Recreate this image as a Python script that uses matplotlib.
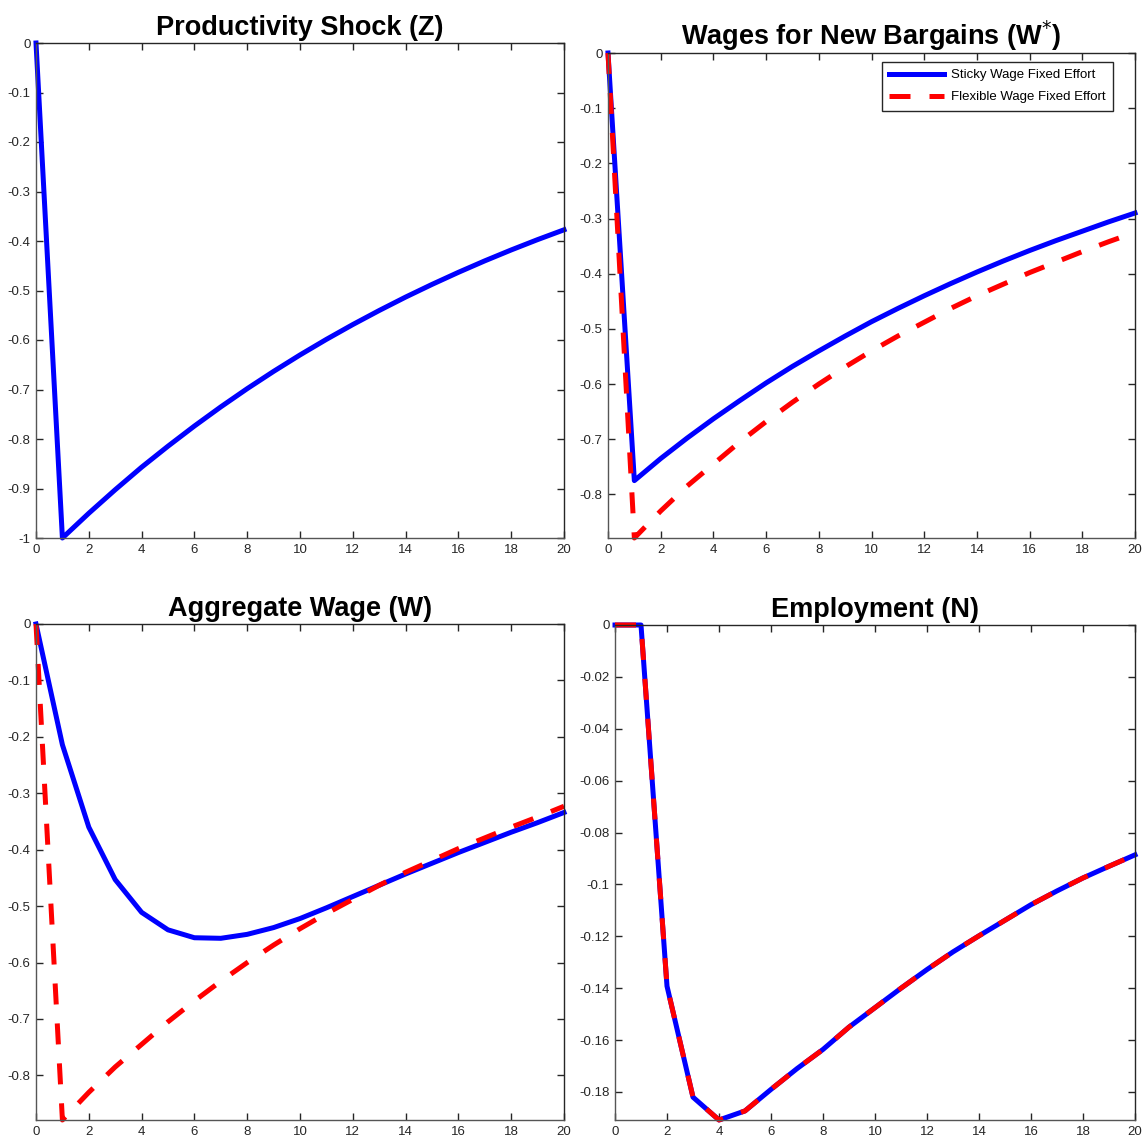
import matplotlib
matplotlib.use("Agg")
import matplotlib.pyplot as plt

plt.rcParams['font.family'] = ['Liberation Sans', 'DejaVu Sans']

t = list(range(21))

z_shock = [0, -1.0, -0.95, -0.9025, -0.857, -0.8145, -0.7738, -0.7351, -0.6983, -0.6634,
           -0.6302, -0.5987, -0.5688, -0.5404, -0.5133, -0.4877, -0.4633, -0.4401,
           -0.4181, -0.3972, -0.3774]

wstar_sticky = [0, -0.775, -0.735, -0.698, -0.663, -0.630, -0.598, -0.568, -0.540, -0.513,
                -0.487, -0.463, -0.440, -0.418, -0.397, -0.377, -0.358, -0.340, -0.323,
                -0.306, -0.290]
wstar_flex = [0, -0.879, -0.830, -0.785, -0.745, -0.705, -0.668, -0.633, -0.600, -0.569,
              -0.540, -0.513, -0.488, -0.463, -0.440, -0.419, -0.398, -0.379, -0.360,
              -0.342, -0.325]

w_sticky = [0, -0.214, -0.360, -0.453, -0.511, -0.542, -0.556, -0.557, -0.550, -0.538,
            -0.522, -0.503, -0.483, -0.463, -0.443, -0.424, -0.405, -0.387, -0.369,
            -0.352, -0.334]
w_flex = [0, -0.879, -0.830, -0.785, -0.745, -0.705, -0.668, -0.633, -0.600, -0.569,
          -0.540, -0.513, -0.488, -0.463, -0.440, -0.419, -0.398, -0.379, -0.360,
          -0.342, -0.323]

n_sticky = [0, 0, -0.1392, -0.182, -0.1908, -0.1873, -0.179, -0.171, -0.1636, -0.155,
            -0.1475, -0.140, -0.1328, -0.126, -0.1198, -0.1138, -0.1078, -0.1025,
            -0.0975, -0.093, -0.0886]
n_flex = [0, 0, -0.1392, -0.182, -0.1908, -0.1873, -0.179, -0.171, -0.1636, -0.155,
          -0.1475, -0.140, -0.1328, -0.126, -0.1198, -0.1138, -0.1078, -0.1025,
          -0.0975, -0.093, -0.0886]

xticks = list(range(0, 21, 2))
yt_tl = [0, -0.1, -0.2, -0.3, -0.4, -0.5, -0.6, -0.7, -0.8, -0.9, -1.0]
yl_tl = ['0', '-0.1', '-0.2', '-0.3', '-0.4', '-0.5', '-0.6', '-0.7', '-0.8', '-0.9', '-1']
yt_w = [0, -0.1, -0.2, -0.3, -0.4, -0.5, -0.6, -0.7, -0.8]
yl_w = ['0', '-0.1', '-0.2', '-0.3', '-0.4', '-0.5', '-0.6', '-0.7', '-0.8']
yt_n = [0, -0.02, -0.04, -0.06, -0.08, -0.1, -0.12, -0.14, -0.16, -0.18]
yl_n = ['0', '-0.02', '-0.04', '-0.06', '-0.08', '-0.1', '-0.12', '-0.14', '-0.16', '-0.18']

titles = ['Productivity Shock (Z)', 'Wages for New Bargains (W$^{*}$)',
          'Aggregate Wage (W)', 'Employment (N)']
labels = ['Sticky Wage Fixed Effort', 'Flexible Wage Fixed Effort']

W, H = 1148, 1145
fig = plt.figure(figsize=(W / 100, H / 100), dpi=100)

def add_ax(l, r, top, bot):
    return fig.add_axes([l / W, 1 - bot / H, (r - l) / W, (bot - top) / H])

axes = [add_ax(36, 564, 43, 538), add_ax(608, 1135, 53, 538),
        add_ax(36, 564, 624, 1120), add_ax(615, 1135, 625, 1120)]

BLUE = '#0000ff'
RED = '#ff0000'
LW = 3.6
DASH = (0, (4.2, 3.8))

def style(ax, yt, yl, ylim, title):
    ax.set_xlim(0, 20)
    ax.set_ylim(*ylim)
    ax.set_xticks(xticks)
    ax.set_xticklabels([str(v) for v in xticks])
    ax.set_yticks(yt)
    ax.set_yticklabels(yl)
    ax.tick_params(direction='in', length=5, width=1, colors='#262626',
                   labelsize=9.5, top=True, right=True, pad=4)
    for name, s in ax.spines.items():
        s.set_color('#555555' if name in ('left', 'bottom') else '#262626')
        s.set_linewidth(1)
    ax.set_title(title, fontsize=19.5, fontweight='bold', pad=6)

ax = axes[0]
ax.plot(t, z_shock, color=BLUE, lw=LW)
style(ax, yt_tl, yl_tl, (-1.0, 0), titles[0])

ax = axes[1]
ax.plot(t, wstar_sticky, color=BLUE, lw=LW, label=labels[0])
ax.plot(t, wstar_flex, color=RED, lw=LW, ls=DASH, label=labels[1])
style(ax, yt_w, yl_w, (min(wstar_flex), 0), titles[1])
leg = ax.legend(loc='upper right', fontsize=9.5, frameon=True, fancybox=False,
                framealpha=1, edgecolor='#262626', handlelength=4.2,
                borderaxespad=0.0, bbox_to_anchor=(0.958, 0.982),
                borderpad=0.55, labelspacing=0.75, handletextpad=0.5)
leg.get_frame().set_linewidth(1)

ax = axes[2]
ax.plot(t, w_sticky, color=BLUE, lw=LW)
ax.plot(t, w_flex, color=RED, lw=LW, ls=DASH)
style(ax, yt_w, yl_w, (min(w_flex), 0), titles[2])

ax = axes[3]
ax.plot(t, n_sticky, color=BLUE, lw=LW)
ax.plot(t, n_flex, color=RED, lw=LW, ls=DASH)
style(ax, yt_n, yl_n, (min(n_flex), 0), titles[3])

for a in axes:
    for line in a.get_lines():
        line.set_clip_on(False)

fig.savefig('out.png', dpi=100)
